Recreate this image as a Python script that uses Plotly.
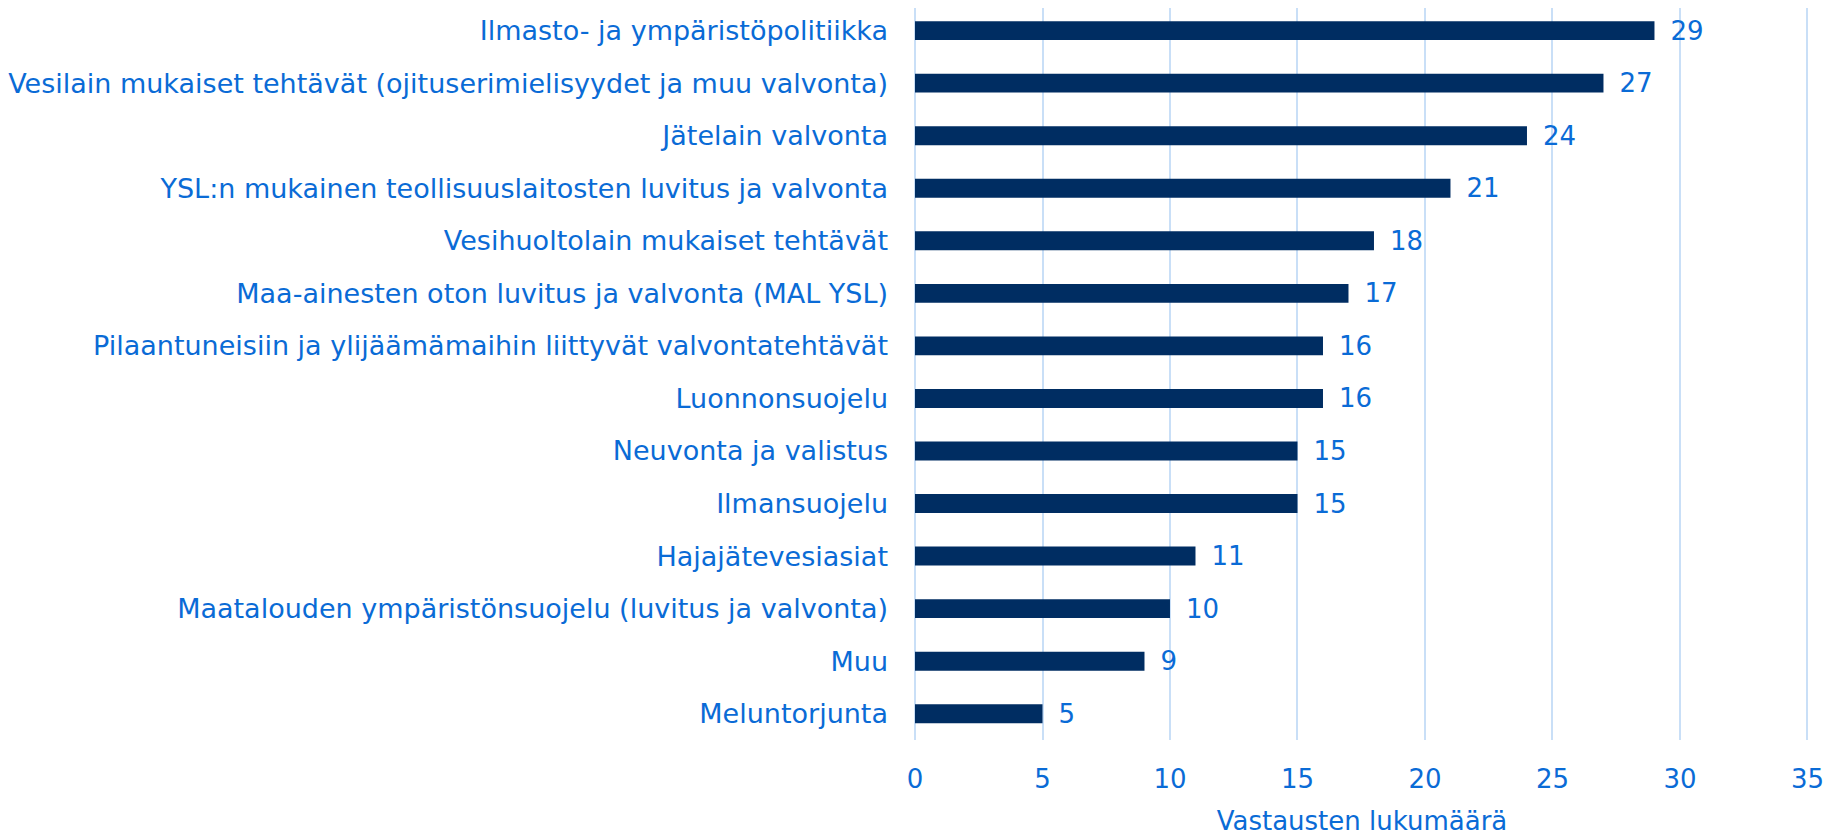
import plotly.graph_objects as go

categories = [
    "Ilmasto- ja ympäristöpolitiikka",
    "Vesilain mukaiset tehtävät (ojituserimielisyydet ja muu valvonta)",
    "Jätelain valvonta",
    "YSL:n mukainen teollisuuslaitosten luvitus ja valvonta",
    "Vesihuoltolain mukaiset tehtävät",
    "Maa-ainesten oton luvitus ja valvonta (MAL YSL)",
    "Pilaantuneisiin ja ylijäämämaihin liittyvät valvontatehtävät",
    "Luonnonsuojelu",
    "Neuvonta ja valistus",
    "Ilmansuojelu",
    "Hajajätevesiasiat",
    "Maatalouden ympäristönsuojelu (luvitus ja valvonta)",
    "Muu",
    "Meluntorjunta",
]
values = [29, 27, 24, 21, 18, 17, 16, 16, 15, 15, 11, 10, 9, 5]
x_ticks = [0, 5, 10, 15, 20, 25, 30, 35]
x_title = "Vastausten lukumäärä"

TEXT = "#0A6BD6"
BAR = "#002D62"
GRID = "#C9DFF7"
FONT = "DejaVu Sans"

fig = go.Figure(go.Bar(
    x=values, y=categories, orientation="h",
    marker=dict(color=BAR, line=dict(width=0)),
    texttemplate="\u2002%{x}", textposition="outside", constraintext="none",
    textfont=dict(color=TEXT, size=26, family=FONT),
    cliponaxis=False, width=0.36,
))

fig.update_layout(
    width=1837, height=834,
    paper_bgcolor="white", plot_bgcolor="white",
    margin=dict(l=907, r=36, t=0, b=102, autoexpand=False),
    showlegend=False,
    font=dict(family=FONT, color=TEXT, size=26),
)
fig.update_xaxes(
    range=[0, 35.06], tickvals=x_ticks, showgrid=True, gridcolor=GRID, gridwidth=1.5,
    zeroline=True, zerolinecolor=GRID, zerolinewidth=1.5,
    tickfont=dict(size=26, color=TEXT, family=FONT),
    title=dict(text=x_title, font=dict(size=26, color=TEXT, family=FONT), standoff=18),
    ticks="", ticklabelstandoff=21, automargin=False,
)
fig.update_yaxes(
    categoryorder="array", categoryarray=categories[::-1],
    range=[-0.5, 13.43],
    tickfont=dict(size=27, color=TEXT, family=FONT), ticks="", ticklabelstandoff=26,
    showgrid=False, automargin=False,
)
fig.write_html("out.html")
